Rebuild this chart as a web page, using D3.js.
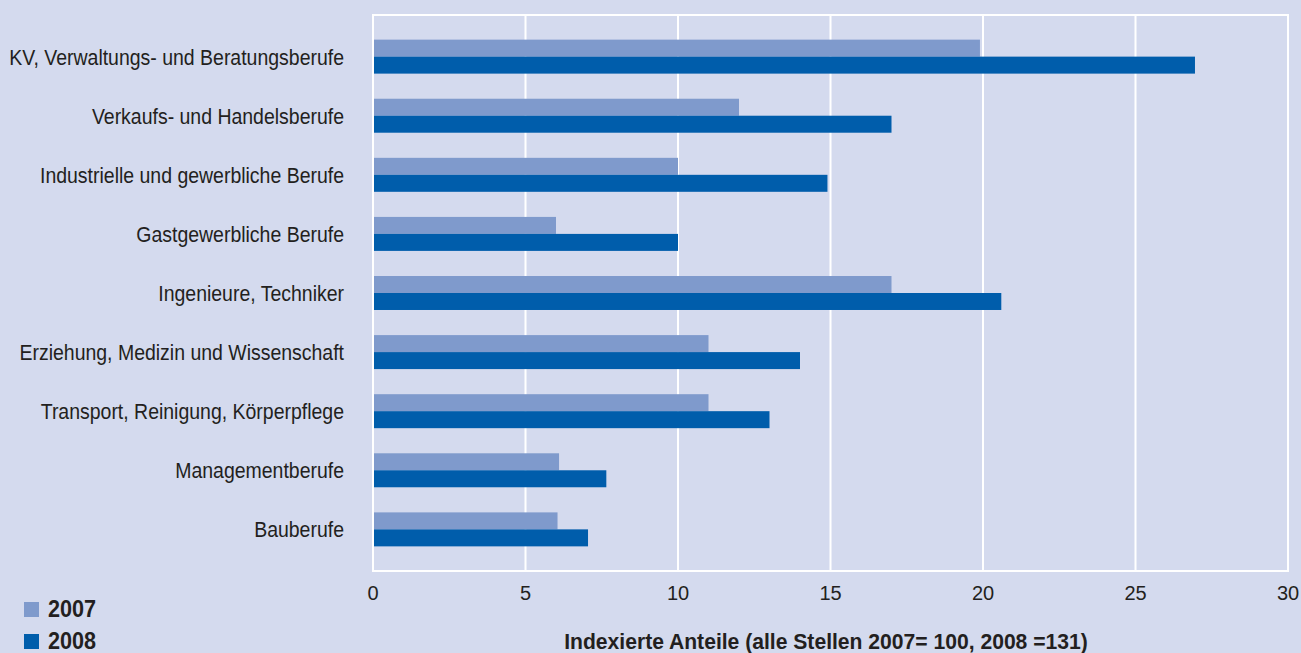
<!DOCTYPE html>
<html>
<head>
<meta charset="utf-8">
<script src="https://cdn.jsdelivr.net/npm/d3@7"></script>
<style>
  html, body { margin: 0; padding: 0; background: #d4daee; }
  svg { display: block; }
  text { fill: #231f20; font-family: "Liberation Sans", Arial, sans-serif; }
</style>
</head>
<body>
<svg id="chart" width="1301" height="653"></svg>
<script>
// data
const categories = [
  'KV, Verwaltungs- und Beratungsberufe',
  'Verkaufs- und Handelsberufe',
  'Industrielle und gewerbliche Berufe',
  'Gastgewerbliche Berufe',
  'Ingenieure, Techniker',
  'Erziehung, Medizin und Wissenschaft',
  'Transport, Reinigung, Körperpflege',
  'Managementberufe',
  'Bauberufe'
];
const values2007 = [19.9, 12.0, 10.0, 6.0, 17.0, 11.0, 11.0, 6.1, 6.05];
const values2008 = [26.95, 17.0, 14.9, 10.0, 20.6, 14.0, 13.0, 7.65, 7.05];
const seriesNames = ['2007', '2008'];
const xTicks = [0, 5, 10, 15, 20, 25, 30];
const axisTitle = 'Indexierte Anteile (alle Stellen 2007= 100, 2008 =131)';

const colors = { '2007': '#7f9acc', '2008': '#005dab' };

const svg = d3.select('#chart');

// plot area
const plotLeft = 373, plotRight = 1288, plotTop = 15, plotBottom = 571;

const x = d3.scaleLinear().domain([0, 30]).range([plotLeft, plotRight]);
const y = d3.scaleBand().domain(categories).range([plotTop, plotBottom])
  .paddingInner(0.425).paddingOuter(0.417);
const ySub = d3.scaleBand().domain(seriesNames).range([0, y.bandwidth()]);

// the original uses a condensed face, so squeeze the text horizontally
const squeeze = (px, py, s) => `translate(${px},${py}) scale(${s},1)`;

// gridlines
svg.append('g')
  .selectAll('line')
  .data(xTicks)
  .join('line')
  .attr('x1', d => x(d))
  .attr('x2', d => x(d))
  .attr('y1', plotTop)
  .attr('y2', plotBottom)
  .attr('stroke', '#ffffff')
  .attr('stroke-width', 2);

// frame
svg.append('rect')
  .attr('x', plotLeft)
  .attr('y', plotTop)
  .attr('width', plotRight - plotLeft)
  .attr('height', plotBottom - plotTop)
  .attr('fill', 'none')
  .attr('stroke', '#ffffff')
  .attr('stroke-width', 2);

// bars
const rows = categories.map((c, i) => ({ cat: c, vals: [
  { key: '2007', v: values2007[i] },
  { key: '2008', v: values2008[i] }
] }));

const groups = svg.append('g')
  .selectAll('g')
  .data(rows)
  .join('g')
  .attr('transform', d => `translate(0,${y(d.cat)})`);

groups.selectAll('rect')
  .data(d => d.vals)
  .join('rect')
  .attr('x', x(0) + 1)
  .attr('y', d => ySub(d.key))
  .attr('width', d => x(d.v) - x(0) - 1)
  .attr('height', ySub.bandwidth())
  .attr('fill', d => colors[d.key]);

// category labels
svg.append('g')
  .selectAll('text')
  .data(categories)
  .join('text')
  .attr('transform', d => squeeze(344, y(d) + y.bandwidth() / 2, 0.885))
  .attr('dy', '0.36em')
  .attr('text-anchor', 'end')
  .attr('font-size', 22)
  .text(d => d);

// x tick labels
svg.append('g')
  .selectAll('text')
  .data(xTicks)
  .join('text')
  .attr('x', d => x(d))
  .attr('y', 600)
  .attr('text-anchor', 'middle')
  .attr('font-size', 20)
  .text(d => d);

// axis title
svg.append('text')
  .attr('transform', squeeze(826, 649, 0.96))
  .attr('text-anchor', 'middle')
  .attr('font-size', 22)
  .attr('font-weight', 'bold')
  .text(axisTitle);

// legend
const legend = svg.append('g')
  .selectAll('g')
  .data(seriesNames)
  .join('g')
  .attr('transform', (d, i) => `translate(24,${602 + i * 32})`);

legend.append('rect')
  .attr('width', 15)
  .attr('height', 15)
  .attr('fill', d => colors[d]);

legend.append('text')
  .attr('transform', squeeze(24, 15, 0.94))
  .attr('font-size', 23)
  .attr('font-weight', 'bold')
  .text(d => d);
</script>
</body>
</html>
